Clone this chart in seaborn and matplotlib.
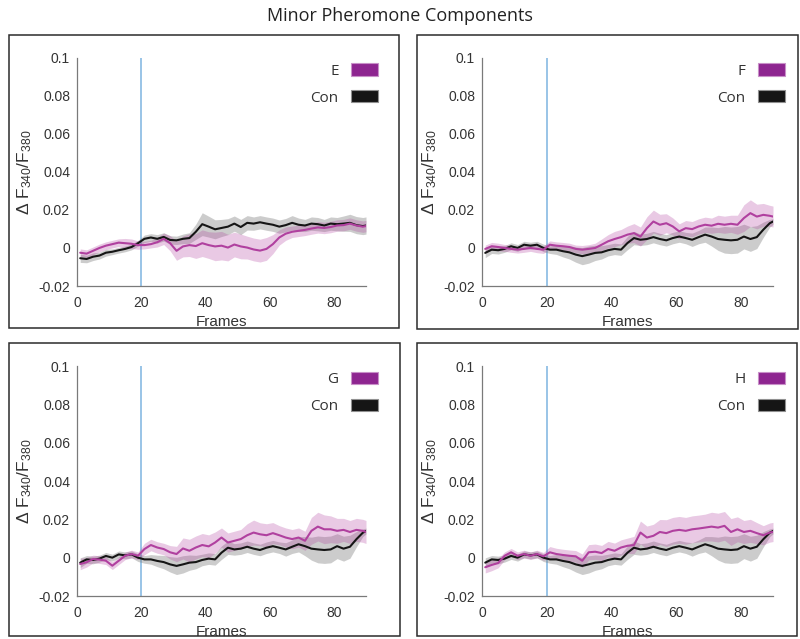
import numpy as np
import seaborn as sns
import matplotlib.pyplot as plt
from matplotlib.patches import Patch, Rectangle

sns.set_style("white")
plt.rcParams["font.family"] = ["Liberation Sans", "DejaVu Sans"]
plt.rcParams["mathtext.default"] = "regular"

# frames sampled every 2 frames (plus last frame)
frames = [1, 3, 5, 7, 9, 11, 13, 15, 17, 19, 21, 23, 25, 27, 29, 31, 33, 35, 37, 39, 41, 43, 45,
          47, 49, 51, 53, 55, 57, 59, 61, 63, 65, 67, 69, 71, 73, 75, 77, 79, 81, 83, 85, 87, 89, 90]

# panel E: its own control
con_e_mean = [-0.0054, -0.0058, -0.0046, -0.004, -0.0025, -0.002, -0.0012, -0.0005, 0.0005, 0.0025,
              0.0048, 0.0055, 0.0048, 0.0058, 0.0042, 0.004, 0.0048, 0.0052, 0.0085, 0.0125, 0.0112,
              0.0098, 0.0105, 0.0112, 0.0128, 0.011, 0.0132, 0.0128, 0.0135, 0.0128, 0.0122, 0.0112,
              0.012, 0.0132, 0.0122, 0.0118, 0.0128, 0.0125, 0.0118, 0.0128, 0.0125, 0.0128, 0.0132,
              0.012, 0.0115, 0.0118]
con_e_sem = [0.0022, 0.002, 0.002, 0.0018, 0.0018, 0.0015, 0.0015, 0.0015, 0.0015, 0.0015, 0.002,
             0.002, 0.0022, 0.0022, 0.0022, 0.0022, 0.0025, 0.0028, 0.004, 0.006, 0.0055, 0.005,
             0.0045, 0.0042, 0.004, 0.004, 0.0038, 0.0035, 0.0035, 0.0035, 0.0035, 0.0035, 0.0035,
             0.0038, 0.0035, 0.0032, 0.0035, 0.0035, 0.0032, 0.0035, 0.0035, 0.004, 0.0045, 0.0045,
             0.0045, 0.0045]
e_mean = [-0.0025, -0.003, -0.0015, 0.0, 0.0012, 0.002, 0.0028, 0.0025, 0.0022, 0.0015, 0.0015,
          0.002, 0.003, 0.0048, 0.0025, -0.0015, 0.0008, 0.0015, 0.001, 0.0025, 0.0015, 0.0008,
          0.0012, 0.0002, 0.0018, 0.0008, 0.0002, -0.0008, -0.0014, -0.0005, 0.002, 0.0055, 0.0075,
          0.0085, 0.009, 0.0095, 0.0102, 0.0108, 0.0105, 0.011, 0.0118, 0.012, 0.0128, 0.0118,
          0.0112, 0.0115]
e_sem = [0.002, 0.002, 0.002, 0.002, 0.002, 0.002, 0.002, 0.0025, 0.0025, 0.0022, 0.002, 0.002,
         0.0025, 0.003, 0.004, 0.005, 0.0055, 0.006, 0.0065, 0.007, 0.007, 0.0075, 0.0075, 0.007,
         0.0065, 0.0065, 0.006, 0.006, 0.006, 0.006, 0.005, 0.004, 0.0035, 0.003, 0.003, 0.003,
         0.003, 0.003, 0.003, 0.003, 0.003, 0.003, 0.003, 0.003, 0.003, 0.003]

# shared control for F, G, H
con_mean = [-0.0026, -0.0009, -0.0012, -0.0005, 0.0009, 0.0, 0.0017, 0.0012, 0.0017, 0.0, -0.0009,
            -0.0009, -0.0017, -0.0023, -0.0035, -0.0043, -0.0035, -0.0026, -0.0023, -0.0012, -0.0005,
            -0.0009, 0.0026, 0.0052, 0.0043, 0.0047, 0.0057, 0.0047, 0.004, 0.0052, 0.006, 0.0052,
            0.0043, 0.0057, 0.007, 0.006, 0.0047, 0.0043, 0.004, 0.0043, 0.006, 0.0047, 0.0057,
            0.0096, 0.013, 0.0139]
con_sem = [0.0025, 0.002, 0.002, 0.0018, 0.0018, 0.0018, 0.0018, 0.0018, 0.0018, 0.002, 0.002,
           0.0025, 0.003, 0.0035, 0.004, 0.0045, 0.0045, 0.004, 0.0035, 0.003, 0.003, 0.003, 0.0035,
           0.0035, 0.003, 0.003, 0.003, 0.003, 0.003, 0.003, 0.003, 0.003, 0.0035, 0.0035, 0.004,
           0.005, 0.006, 0.007, 0.007, 0.007, 0.0065, 0.0065, 0.006, 0.004, 0.002, 0.0015]

f_mean = [-0.0005, 0.0009, 0.0005, 0.0, -0.0005, -0.0009, -0.0005, 0.0, -0.0005, -0.0009, 0.0017,
          0.0012, 0.0009, 0.0005, -0.0005, -0.0009, -0.0005, 0.0, 0.0017, 0.0035, 0.0047, 0.0057,
          0.007, 0.0078, 0.006, 0.0104, 0.0139, 0.0122, 0.013, 0.0113, 0.0087, 0.0104, 0.0099,
          0.0113, 0.0122, 0.0117, 0.0127, 0.0122, 0.0127, 0.0122, 0.0157, 0.0183, 0.0165, 0.0174,
          0.0169, 0.0165]
f_sem = [0.002, 0.002, 0.002, 0.0018, 0.0018, 0.0018, 0.0018, 0.0018, 0.002, 0.002, 0.002, 0.002,
         0.002, 0.002, 0.002, 0.0022, 0.0022, 0.0025, 0.003, 0.0035, 0.004, 0.004, 0.0045, 0.005,
         0.005, 0.006, 0.006, 0.0055, 0.005, 0.0045, 0.004, 0.004, 0.004, 0.004, 0.004, 0.004,
         0.0045, 0.0045, 0.0045, 0.005, 0.007, 0.007, 0.0065, 0.006, 0.0055, 0.0055]

g_mean = [-0.0033, -0.0024, -0.0007, -0.001, -0.0016, -0.0042, -0.0016, 0.001, 0.0019, 0.001,
          0.0045, 0.0066, 0.0053, 0.0045, 0.0028, 0.0019, 0.0048, 0.0036, 0.0053, 0.0066, 0.0059,
          0.0079, 0.0105, 0.0079, 0.0088, 0.0097, 0.0117, 0.0131, 0.0122, 0.0117, 0.0128, 0.0117,
          0.0105, 0.0097, 0.0105, 0.0088, 0.014, 0.0162, 0.0148, 0.0148, 0.014, 0.0145, 0.0134,
          0.0145, 0.014, 0.0134]
g_sem = [0.003, 0.0025, 0.002, 0.002, 0.002, 0.002, 0.002, 0.002, 0.002, 0.002, 0.003, 0.003,
         0.003, 0.003, 0.0035, 0.004, 0.0055, 0.006, 0.006, 0.006, 0.006, 0.0055, 0.005, 0.005,
         0.005, 0.005, 0.006, 0.0065, 0.006, 0.006, 0.0055, 0.005, 0.005, 0.005, 0.005, 0.005,
         0.007, 0.0075, 0.0075, 0.007, 0.0065, 0.006, 0.006, 0.006, 0.006, 0.006]

h_mean = [-0.005, -0.0038, -0.0028, 0.001, 0.0028, 0.001, 0.0019, 0.001, 0.0019, 0.0007, 0.0028,
          0.0019, 0.0014, 0.001, 0.0007, -0.0016, 0.0028, 0.0031, 0.0024, 0.0045, 0.0036, 0.0053,
          0.0062, 0.0066, 0.0131, 0.0105, 0.0114, 0.0134, 0.0128, 0.014, 0.0145, 0.014, 0.0148,
          0.0152, 0.0157, 0.0162, 0.0157, 0.0166, 0.0134, 0.0148, 0.0134, 0.014, 0.0128, 0.0117,
          0.0131, 0.0134]
h_sem = [0.003, 0.003, 0.0025, 0.002, 0.002, 0.002, 0.002, 0.002, 0.002, 0.002, 0.003, 0.003,
         0.003, 0.003, 0.003, 0.0035, 0.004, 0.004, 0.004, 0.004, 0.004, 0.004, 0.004, 0.0045,
         0.006, 0.006, 0.006, 0.0065, 0.007, 0.007, 0.007, 0.007, 0.007, 0.007, 0.007, 0.0075,
         0.0075, 0.0075, 0.007, 0.0065, 0.006, 0.006, 0.0055, 0.005, 0.005, 0.005]

labels = ["E", "F", "G", "H"]
test_means = [e_mean, f_mean, g_mean, h_mean]
test_sems = [e_sem, f_sem, g_sem, h_sem]
ctrl_means = [con_e_mean, con_mean, con_mean, con_mean]
ctrl_sems = [con_e_sem, con_sem, con_sem, con_sem]

xticks = [0, 20, 40, 60, 80]
yticks = [-0.02, 0, 0.02, 0.04, 0.06, 0.08, 0.1]
ytick_labels = ["-0.02", "0", "0.02", "0.04", "0.06", "0.08", "0.1"]
stim_frame = 20

mag = "#b0409f"
mag_patch = "#8e2590"
blk = "#151515"
grey = "#7a7a7a"
axc = "#7a7a7a"
txt = "#333333"

fig = plt.figure(figsize=(8, 6.39), dpi=100)
W, H = 800, 639

# panel boxes (pixels: x0, y0top, x1, y1bottom)
boxes = [(9, 35, 399, 328), (417, 35, 798, 329), (9, 343, 400, 636), (417, 343, 797, 636)]
axes_px = [(77, 57.7, 366, 286), (482, 57.7, 773, 286), (77, 366, 366, 596), (482, 366, 773, 596)]

for i in range(4):
    bx0, by0, bx1, by1 = boxes[i]
    fig.patches.append(Rectangle((bx0 / W, 1 - by1 / H), (bx1 - bx0) / W, (by1 - by0) / H,
                                 transform=fig.transFigure, fill=False, edgecolor="#2b2b2b",
                                 linewidth=1.1))
    ax0, ay0, ax1, ay1 = axes_px[i]
    ax = fig.add_axes([ax0 / W, 1 - ay1 / H, (ax1 - ax0) / W, (ay1 - ay0) / H])

    cm, cs = np.array(ctrl_means[i]), np.array(ctrl_sems[i])
    tm, ts = np.array(test_means[i]), np.array(test_sems[i])
    ax.fill_between(frames, cm - cs, cm + cs, color=grey, alpha=0.38, linewidth=0)
    ax.fill_between(frames, tm - ts, tm + ts, color=mag, alpha=0.28, linewidth=0)
    sns.lineplot(x=frames, y=ctrl_means[i], color=blk, linewidth=1.5, ax=ax)
    sns.lineplot(x=frames, y=test_means[i], color=mag, linewidth=1.5, ax=ax)
    ax.axvline(stim_frame, color="#7db4e0", linewidth=1.1, zorder=0.5)

    ax.set_xlim(0, 90)
    ax.set_ylim(-0.02, 0.1)
    ax.set_xticks(xticks)
    ax.set_yticks(yticks)
    ax.set_yticklabels(ytick_labels)
    ax.tick_params(direction="in", length=3, width=0.8, colors=axc, labelcolor=txt,
                   labelsize=10)
    ax.tick_params(axis="x", pad=7)
    ax.tick_params(axis="y", pad=5)
    for s in ["top", "right"]:
        ax.spines[s].set_visible(False)
    for s in ["left", "bottom"]:
        ax.spines[s].set_color(axc)
        ax.spines[s].set_linewidth(0.9)
    ax.set_xlabel("Frames", fontsize=11, color=txt, labelpad=4)
    ax.set_ylabel(r"$\Delta$ F$_{340}$/F$_{380}$", fontsize=12.5, color=txt, labelpad=3)

    handles = [Patch(facecolor=mag_patch, edgecolor="#c890c8", linewidth=0.8, label=labels[i]),
               Patch(facecolor=blk, edgecolor="#909090", linewidth=0.8, label="Con")]
    leg = ax.legend(handles=handles, loc="upper right", bbox_to_anchor=(1.04, 0.975),
                    frameon=False, markerfirst=False, handlelength=1.75, handleheight=0.85,
                    handletextpad=0.8, labelspacing=0.75, borderpad=0, borderaxespad=0,
                    prop={"family": "Open Sans", "size": 11})
    for t in leg.get_texts():
        t.set_color(txt)

fig.text(0.5, 1 - 16 / H, "Minor Pheromone Components", ha="center", va="center",
         fontsize=13, family="Open Sans", color="#222222")

fig.savefig("out.png", dpi=100, facecolor="white")
